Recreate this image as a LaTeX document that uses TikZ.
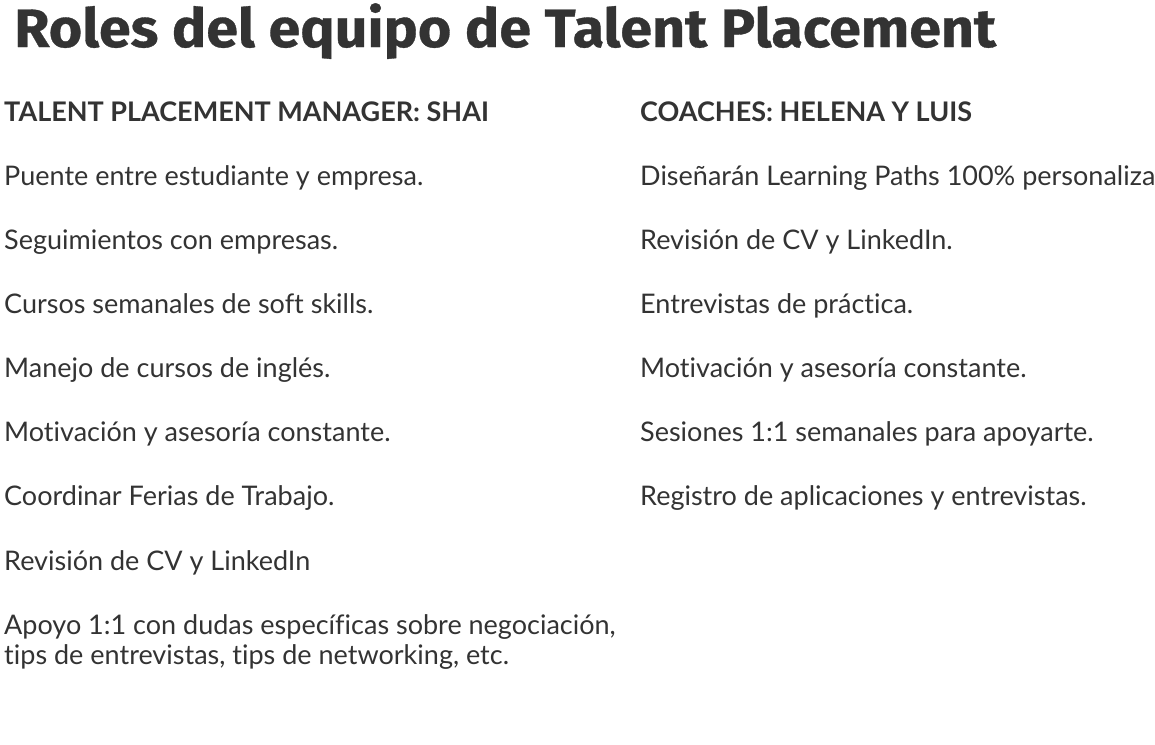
\documentclass[tikz,border=0pt]{standalone}
\usepackage{fontspec}
\setmainfont[Ligatures=NoCommon]{Lato}
\newfontfamily\titlefont[FakeStretch=1.062,FakeBold=0.6]{Fira Sans}
\definecolor{txt}{HTML}{333333}
\tikzset{
  ttl/.style={anchor=base west,inner sep=0pt,text=txt,font=\titlefont\bfseries\fontsize{54}{60}\selectfont},
  hdr/.style={anchor=base west,inner sep=0pt,text=txt,font=\bfseries\fontsize{27}{30}\selectfont},
  itm/.style={anchor=base west,inner sep=0pt,text=txt,font=\fontsize{27}{30}\selectfont}
}
\begin{document}
\begin{tikzpicture}[x=1pt,y=-1pt]
\useasboundingbox (0,0) rectangle (1155,744);
\clip (0,0) rectangle (1155,744);
\node[ttl] (title) at (14,47) {Roles del equipo de Talent Placement};
\node[hdr] (h1) at (4,121) {TALENT PLACEMENT MANAGER: SHAI};
\node[itm] (a1) at (4,185) {Puente entre estudiante y empresa.};
\node[itm] (a2) at (4,249) {Seguimientos con empresas.};
\node[itm] (a3) at (4,313) {Cursos semanales de soft skills.};
\node[itm] (a4) at (4,377) {Manejo de cursos de inglés.};
\node[itm] (a5) at (4,441) {Motivación y asesoría constante.};
\node[itm] (a6) at (4,505) {Coordinar Ferias de Trabajo.};
\node[itm] (a7) at (4,570) {Revisión de CV y LinkedIn};
\node[itm] (a8) at (4,634) {Apoyo 1:1 con dudas específicas sobre negociación,};
\node[itm] (a9) at (4,664) {tips de entrevistas, tips de networking, etc.};
\node[hdr] (h2) at (640,121) {COACHES: HELENA Y LUIS};
\node[itm] (b1) at (640,185) {Diseñarán Learning Paths 100\% personalizados.};
\node[itm] (b2) at (640,249) {Revisión de CV y LinkedIn.};
\node[itm] (b3) at (640,313) {Entrevistas de práctica.};
\node[itm] (b4) at (640,377) {Motivación y asesoría constante.};
\node[itm] (b5) at (640,441) {Sesiones 1:1 semanales para apoyarte.};
\node[itm] (b6) at (640,505) {Registro de aplicaciones y entrevistas.};
\end{tikzpicture}
\end{document}
